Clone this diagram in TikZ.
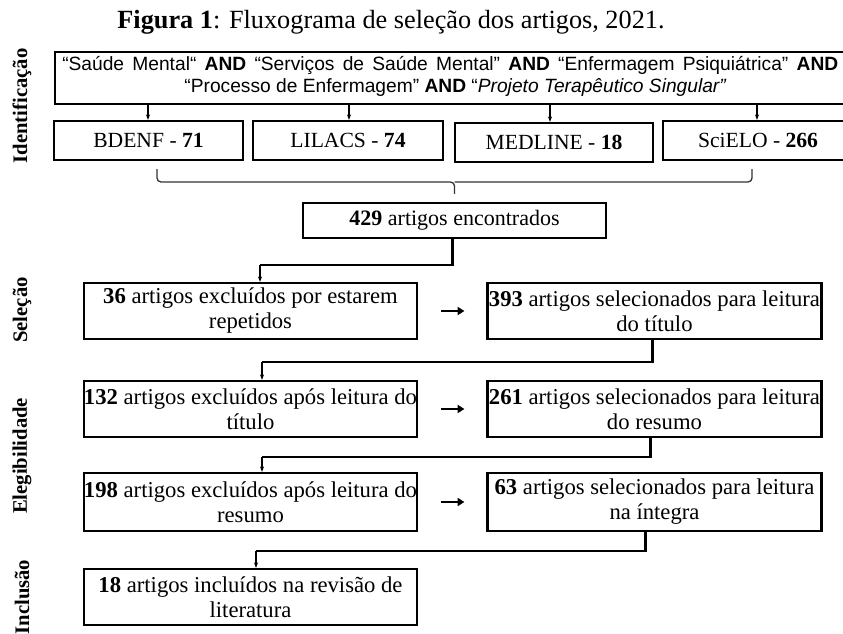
\documentclass[tikz,border=0pt]{standalone}
\usepackage{fontspec}
\setmainfont{Liberation Serif}
\newfontfamily\arialf{Liberation Sans}
\usetikzlibrary{arrows.meta,calc}
\def\pxx{0.75pt}
\begin{document}
\begin{tikzpicture}[x=0.75pt,y=-0.75pt,
  box/.style={draw,line width=1.7pt,inner sep=0pt,align=center,
    font=\fontsize{17}{18.75}\selectfont},
  dbbox/.style={box,minimum height=39*\pxx,font=\fontsize{16.2}{18}\selectfont},
  rowbox/.style={box,minimum height=56*\pxx},
  lbl/.style={rotate=90,font=\fontsize{15.5}{18}\selectfont\bfseries},
  thinarr/.style={line width=0.8pt,-{Stealth[length=4pt,width=3pt]}},
  thickline/.style={line width=1.8pt},
  sidearr/.style={line width=2pt,-{Triangle[length=5pt,width=6pt]}}
]
\clip (0,0) rectangle (843,634);
\useasboundingbox (0,0) rectangle (843,634);

% title
\node (title) at (391,22) {\fontsize{19.7}{22}\selectfont\textbf{Figura 1}: Fluxograma de seleção dos artigos, 2021.};

% side labels
\node[lbl] (lid) at (22,106) {Identificação};
\node[lbl] (lsel) at (22,310) {Seleção};
\node[lbl] (leleg) at (22,456) {Elegibilidade};
\node[lbl] (linc) at (22,597) {Inclusão};

% top search box
\node[box,minimum width=801*\pxx,minimum height=52*\pxx,
  font=\arialf\fontsize{14.4}{17.3}\selectfont] (top) at (455.5,78) {};
\node[font=\arialf\fontsize{14.4}{17.3}\selectfont,anchor=west,inner sep=0pt] (topl1) at (62,65)
  {\makebox[582pt][s]{“Saúde Mental“ \textbf{AND} “Serviços de Saúde Mental” \textbf{AND} “Enfermagem Psiquiátrica” \textbf{AND}}};
\node[font=\arialf\fontsize{14.4}{17.3}\selectfont,inner sep=0pt] (topl2) at (455.5,88)
  {“Processo de Enfermagem” \textbf{AND} “\textit{Projeto Terapêutico Singular”}};

% databases
\node[dbbox,minimum width=189*\pxx] (bdenf) at (148.5,140.5) {BDENF - \textbf{71}};
\node[dbbox,minimum width=190*\pxx] (lilacs) at (348,140.5) {LILACS - \textbf{74}};
\node[dbbox,minimum width=198*\pxx] (medline) at (554,142.5) {MEDLINE - \textbf{18}};
\node[dbbox,minimum width=190*\pxx] (scielo) at (758,140.5) {SciELO - \textbf{266}};

\foreach \n/\xx in {bdenf/148,lilacs/349,medline/550,scielo/757}
  \draw[thinarr] (top.south -| \xx,0) -- (\n.north -| \xx,0);

% brace
\coordinate (bl) at ($(bdenf.south)+(8.5,8)$);
\coordinate (br) at ($(scielo.south)+(-6,8)$);
\node[box,minimum width=303*\pxx,minimum height=35*\pxx,font=\fontsize{16.5}{18}\selectfont] (found) at (454.5,220.5) {\textbf{429} artigos encontrados};
\coordinate (bm) at (found.north |- 0,182);
\draw[line width=1pt,black!80,rounded corners=3pt]
  (bl) -- (bl |- bm) -- (bm) -- ($(found.north)+(0,-8)$);
\draw[line width=1pt,black!80,rounded corners=3pt]
  (br) -- (br |- bm) -- (bm);

% rows
\node[rowbox,minimum width=333*\pxx] (l1) at (250.5,311) {\textbf{36} artigos excluídos por estarem\\repetidos};
\node[rowbox,minimum width=334*\pxx] (r1) at (654.5,311) {\textbf{393} artigos selecionados para leitura\\do título};
\node[rowbox,minimum width=333*\pxx] (l2) at (250.5,409) {\textbf{132} artigos excluídos após leitura do\\título};
\node[rowbox,minimum width=334*\pxx] (r2) at (654.5,409) {\textbf{261} artigos selecionados para leitura\\do resumo};
\node[rowbox,minimum width=333*\pxx,minimum height=58*\pxx] (l3) at (250.5,502) {\textbf{198} artigos excluídos após leitura do\\resumo};
\node[rowbox,minimum width=334*\pxx,minimum height=58*\pxx] (r3) at (654.5,502) {\textbf{63} artigos selecionados para leitura\\na íntegra};
\node[rowbox,minimum width=333*\pxx] (l4) at (250.5,597) {\textbf{18} artigos incluídos na revisão de\\literatura};

% side arrows
\foreach \a/\b in {l1/r1,l2/r2,l3/r3}
  \draw[sidearr] ($(\a.east)+(23,0)$) -- ($(\b.west)+(-22,0)$);

% connectors
\coordinate (k0) at (260,265);
\draw[thickline] ($(found.south)+(-2,0)$) |- (k0);
\draw[thinarr] (k0) -- (k0 |- l1.north);
\coordinate (k1) at (262,362);
\draw[thickline] ($(r1.south)+(-2,0)$) |- (k1);
\draw[thinarr] (k1) -- (k1 |- l2.north);
\coordinate (k2) at (262,457);
\draw[thickline] ($(r2.south)+(-4,0)$) |- (k2);
\draw[thinarr] (k2) -- (k2 |- l3.north);
\coordinate (k3) at (256,551);
\draw[thickline] ($(r3.south)+(-9,0)$) |- (k3);
\draw[thinarr] (k3) -- (k3 |- l4.north);
\end{tikzpicture}
\end{document}
